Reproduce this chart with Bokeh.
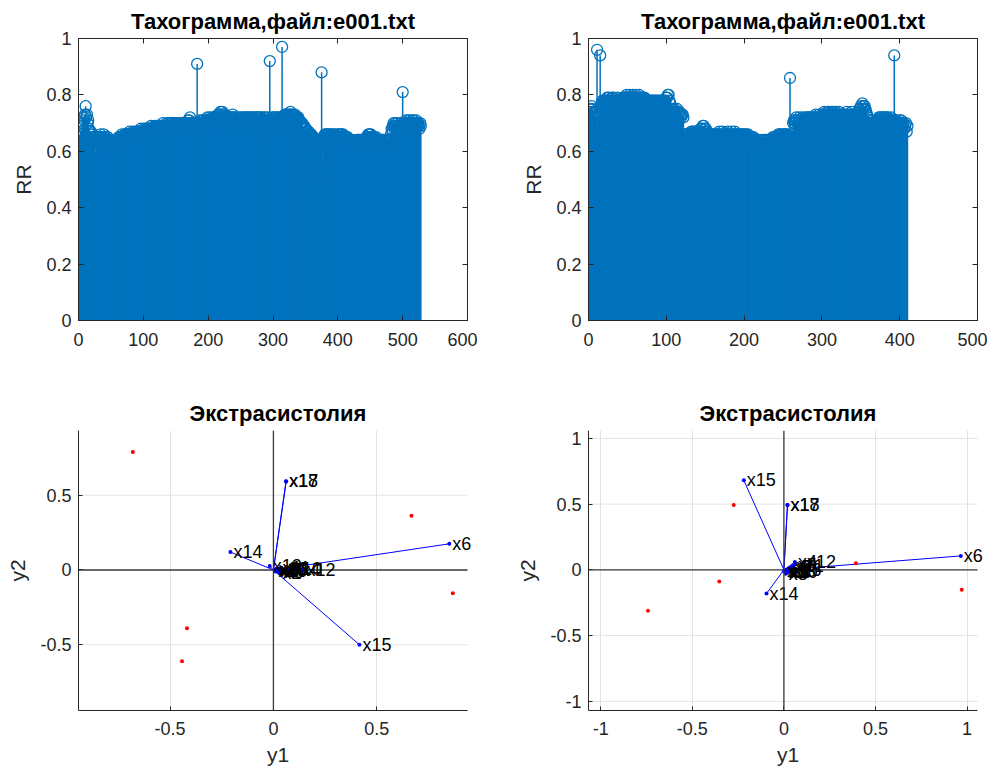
from bokeh.plotting import figure
from bokeh.models import (LinearAxis, FixedTicker, Span, Range1d, CustomJSTickFormatter,
                          LabelSet, ColumnDataSource)
from bokeh.layouts import row, column
from bokeh.core.properties import value
from bokeh.embed import file_html
from bokeh.resources import INLINE

# ---------------- data ----------------
title_top = "Тахограмма,файл:e001.txt"
title_bottom = "Экстрасистолия"

rr1 = [
    0.66,0.65,0.67,0.66,0.67,0.69,0.70,0.72,0.71,0.73,0.76,0.72,0.73,0.70,0.71,0.68,0.67,0.66,0.67,0.65,
    0.64,0.66,0.63,0.65,0.64,0.60,0.65,0.64,0.63,0.65,0.64,0.65,0.64,0.66,0.65,0.64,0.65,0.64,0.66,0.65,
    0.64,0.65,0.63,0.64,0.65,0.64,0.63,0.64,0.62,0.63,0.63,0.62,0.63,0.62,0.62,0.63,0.62,0.63,0.64,0.63,
    0.64,0.65,0.64,0.65,0.64,0.65,0.66,0.65,0.64,0.65,0.66,0.65,0.66,0.65,0.66,0.66,0.65,0.66,0.67,0.66,
    0.66,0.65,0.66,0.67,0.66,0.66,0.67,0.66,0.65,0.67,0.66,0.67,0.67,0.66,0.67,0.68,0.67,0.66,0.67,0.67,
    0.68,0.67,0.67,0.68,0.67,0.68,0.68,0.67,0.68,0.67,0.68,0.69,0.68,0.67,0.68,0.68,0.69,0.68,0.68,0.69,
    0.68,0.69,0.68,0.69,0.68,0.69,0.69,0.68,0.69,0.70,0.69,0.68,0.69,0.69,0.68,0.70,0.69,0.69,0.70,0.69,
    0.69,0.70,0.69,0.70,0.69,0.69,0.70,0.69,0.70,0.69,0.70,0.70,0.69,0.70,0.69,0.70,0.69,0.70,0.70,0.69,
    0.70,0.69,0.70,0.69,0.70,0.69,0.70,0.70,0.71,0.70,0.71,0.72,0.70,0.69,0.68,0.70,0.69,0.70,0.69,0.70,
    0.70,0.69,0.91,0.70,0.69,0.70,0.71,0.70,0.69,0.70,0.71,0.70,0.71,0.70,0.69,0.71,0.70,0.71,0.72,0.71,
    0.70,0.71,0.72,0.71,0.70,0.71,0.72,0.71,0.71,0.72,0.71,0.70,0.71,0.72,0.73,0.72,0.73,0.72,0.74,0.73,
    0.73,0.74,0.72,0.73,0.72,0.73,0.72,0.71,0.72,0.71,0.72,0.71,0.72,0.71,0.72,0.71,0.72,0.73,0.72,0.71,
    0.72,0.71,0.70,0.71,0.72,0.71,0.72,0.71,0.70,0.71,0.72,0.71,0.72,0.71,0.70,0.71,0.72,0.71,0.72,0.71,
    0.72,0.71,0.72,0.71,0.70,0.72,0.71,0.72,0.71,0.72,0.71,0.70,0.71,0.72,0.71,0.72,0.71,0.72,0.71,0.72,
    0.71,0.72,0.71,0.70,0.71,0.72,0.71,0.72,0.71,0.70,0.71,0.72,0.71,0.65,0.92,0.71,0.70,0.71,0.72,0.71,
    0.72,0.71,0.72,0.71,0.70,0.72,0.71,0.72,0.71,0.70,0.71,0.72,0.71,0.97,0.72,0.71,0.72,0.73,0.72,0.73,
    0.72,0.73,0.72,0.73,0.72,0.73,0.74,0.73,0.73,0.72,0.73,0.72,0.72,0.73,0.72,0.71,0.72,0.71,0.72,0.71,
    0.71,0.70,0.70,0.69,0.70,0.69,0.68,0.69,0.68,0.67,0.68,0.67,0.67,0.66,0.67,0.66,0.66,0.65,0.66,0.65,
    0.65,0.64,0.65,0.64,0.64,0.63,0.64,0.63,0.63,0.64,0.63,0.62,0.63,0.52,0.88,0.57,0.63,0.64,0.65,0.66,
    0.65,0.66,0.65,0.66,0.65,0.66,0.65,0.66,0.65,0.66,0.65,0.64,0.65,0.66,0.65,0.66,0.65,0.64,0.65,0.66,
    0.65,0.66,0.65,0.66,0.65,0.66,0.65,0.66,0.65,0.64,0.65,0.64,0.65,0.64,0.65,0.64,0.63,0.64,0.64,0.63,
    0.64,0.63,0.64,0.64,0.63,0.64,0.64,0.63,0.64,0.64,0.63,0.64,0.64,0.63,0.64,0.63,0.64,0.64,0.63,0.64,
    0.64,0.63,0.64,0.65,0.64,0.65,0.66,0.65,0.66,0.65,0.66,0.65,0.64,0.65,0.64,0.65,0.64,0.64,0.65,0.64,
    0.64,0.63,0.64,0.64,0.63,0.64,0.63,0.64,0.64,0.63,0.64,0.63,0.64,0.63,0.64,0.64,0.63,0.64,0.63,0.64,
    0.64,0.66,0.68,0.67,0.69,0.70,0.68,0.69,0.70,0.69,0.68,0.70,0.69,0.68,0.67,0.69,0.70,0.68,0.69,0.81,
    0.69,0.70,0.69,0.70,0.71,0.70,0.69,0.70,0.71,0.70,0.71,0.70,0.69,0.70,0.71,0.70,0.71,0.70,0.69,0.70,
    0.71,0.70,0.69,0.70,0.69,0.68,0.70,0.69,
]

rr2 = [
    0.75,0.74,0.75,0.76,0.75,0.74,0.73,0.74,0.72,0.74,0.96,0.70,0.73,0.72,0.94,0.76,0.77,0.78,0.77,0.78,
    0.78,0.77,0.78,0.79,0.78,0.79,0.78,0.77,0.78,0.79,0.78,0.79,0.78,0.77,0.78,0.78,0.79,0.78,0.77,0.78,
    0.78,0.77,0.78,0.79,0.78,0.79,0.78,0.79,0.80,0.79,0.78,0.79,0.80,0.79,0.78,0.79,0.80,0.79,0.78,0.79,
    0.80,0.79,0.78,0.79,0.80,0.79,0.78,0.79,0.78,0.79,0.78,0.79,0.78,0.77,0.78,0.77,0.78,0.77,0.78,0.77,
    0.78,0.77,0.78,0.77,0.78,0.77,0.78,0.77,0.78,0.77,0.78,0.77,0.78,0.77,0.78,0.77,0.78,0.77,0.78,0.79,
    0.79,0.80,0.80,0.78,0.77,0.75,0.74,0.75,0.74,0.75,0.74,0.73,0.74,0.75,0.74,0.73,0.74,0.73,0.72,0.73,
    0.73,0.72,0.66,0.65,0.66,0.65,0.66,0.65,0.66,0.65,0.66,0.67,0.66,0.67,0.66,0.67,0.66,0.67,0.66,0.67,
    0.67,0.66,0.67,0.68,0.67,0.68,0.69,0.69,0.68,0.67,0.68,0.67,0.66,0.65,0.66,0.65,0.66,0.65,0.66,0.65,
    0.66,0.65,0.66,0.65,0.66,0.65,0.66,0.67,0.66,0.65,0.66,0.67,0.66,0.65,0.66,0.66,0.65,0.66,0.67,0.66,
    0.66,0.65,0.66,0.67,0.66,0.65,0.66,0.67,0.66,0.65,0.66,0.65,0.66,0.65,0.66,0.65,0.66,0.65,0.66,0.65,
    0.66,0.65,0.66,0.65,0.66,0.65,0.64,0.65,0.64,0.65,0.64,0.65,0.64,0.63,0.64,0.63,0.64,0.63,0.64,0.63,
    0.63,0.64,0.63,0.62,0.63,0.64,0.63,0.64,0.63,0.64,0.63,0.64,0.64,0.63,0.64,0.64,0.65,0.64,0.65,0.64,
    0.65,0.64,0.65,0.66,0.65,0.66,0.65,0.66,0.65,0.66,0.65,0.66,0.65,0.66,0.65,0.66,0.65,0.64,0.86,0.65,
    0.66,0.65,0.70,0.71,0.70,0.71,0.72,0.71,0.70,0.71,0.72,0.71,0.70,0.71,0.72,0.71,0.70,0.71,0.72,0.71,
    0.72,0.71,0.72,0.71,0.72,0.71,0.72,0.71,0.72,0.71,0.72,0.73,0.72,0.71,0.72,0.73,0.72,0.71,0.72,0.73,
    0.72,0.73,0.74,0.73,0.72,0.73,0.74,0.73,0.74,0.73,0.72,0.73,0.74,0.73,0.74,0.73,0.72,0.74,0.73,0.72,
    0.73,0.74,0.73,0.72,0.73,0.72,0.73,0.72,0.73,0.72,0.73,0.74,0.73,0.72,0.73,0.72,0.73,0.74,0.73,0.72,
    0.73,0.72,0.73,0.72,0.73,0.72,0.74,0.75,0.74,0.76,0.75,0.77,0.76,0.75,0.76,0.75,0.74,0.73,0.72,0.71,
    0.70,0.71,0.70,0.69,0.70,0.69,0.70,0.69,0.70,0.71,0.70,0.71,0.72,0.71,0.72,0.71,0.72,0.71,0.72,0.71,
    0.72,0.71,0.72,0.71,0.72,0.71,0.70,0.71,0.72,0.71,0.70,0.71,0.94,0.71,0.70,0.71,0.70,0.69,0.70,0.71,
    0.70,0.71,0.70,0.69,0.70,0.68,0.69,0.70,0.67,0.69,
]
assert len(rr1) == 528, len(rr1)
assert len(rr2) == 410, len(rr2)

rr_yticks = [0, 0.2, 0.4, 0.6, 0.8, 1]
rr1_xticks = [0, 100, 200, 300, 400, 500, 600]
rr2_xticks = [0, 100, 200, 300, 400, 500]

var_names = ["x1", "x2", "x3", "x4", "x5", "x6", "x7", "x8", "x9", "x10",
             "x11", "x12", "x13", "x14", "x15", "x16", "x17", "x18"]

# biplot 1 (left): variable coefficients and observation scores
bl_c1 = [0.01, 0.03, 0.02, 0.12, 0.04, 0.851, 0.05, 0.02, 0.06, 0.08,
         0.03, 0.145, -0.018, -0.208, 0.416, 0.01, 0.062, 0.061]
bl_c2 = [-0.01, -0.02, -0.01, 0.0, -0.015, 0.175, 0.0, 0.0, -0.01, 0.005,
         0.01, 0.0, 0.027, 0.12, -0.50, 0.005, 0.592, 0.593]
bl_o1 = [-0.68, 0.668, 0.868, -0.418, -0.442]
bl_o2 = [0.79, 0.362, -0.155, -0.389, -0.611]
bl_ticks = [-0.5, 0, 0.5]

# biplot 2 (right)
br_c1 = [0.02, 0.03, 0.01, 0.06, 0.02, 0.966, 0.04, 0.01, 0.06, 0.01,
         0.05, 0.11, 0.0, -0.095, -0.219, 0.03, 0.020, 0.019]
br_c2 = [-0.02, -0.01, -0.03, 0.06, -0.02, 0.106, 0.02, -0.01, 0.04, -0.02,
         0.03, 0.06, -0.01, -0.18, 0.681, 0.0, 0.493, 0.494]
br_o1 = [-0.274, -0.353, -0.742, 0.393, 0.971]
br_o2 = [0.494, -0.089, -0.311, 0.051, -0.152]
br_ticks = [-1, -0.5, 0, 0.5, 1]

# ---------------- style ----------------
FONT = "Liberation Sans"
AX = "#262626"
BLUE = "#0072BD"
GRID = "#e3e3e3"
FMT = "return String(tick)"
FRAME_W = 389


def style_axis(ax, ticks, show_labels=True):
    ax.ticker = FixedTicker(ticks=ticks)
    ax.formatter = CustomJSTickFormatter(code=FMT)
    ax.major_label_text_font = FONT
    ax.major_label_text_color = AX
    ax.axis_line_color = AX
    ax.major_tick_line_color = AX
    ax.major_tick_in = 5
    ax.major_tick_out = 0
    ax.minor_tick_line_color = None
    ax.axis_label_text_font = FONT
    ax.axis_label_text_font_size = "21px"
    ax.axis_label_text_font_style = "normal"
    ax.axis_label_text_color = AX
    if show_labels:
        ax.major_label_text_font_size = "18px"
    else:
        ax.major_label_text_font_size = "1px"
        ax.major_label_text_color = None
        ax.major_label_standoff = 0


def style_title(p, text):
    p.title.text = text
    p.title.align = "center"
    p.title.text_font = FONT
    p.title.text_font_size = "22px"
    p.title.text_font_style = "bold"
    p.title.text_color = "#000000"
    p.title.standoff = 9


def make_top(rr, xmax, xticks, ml, mr):
    p = figure(frame_width=FRAME_W, frame_height=282, output_backend="svg",
               toolbar_location=None, x_range=Range1d(0, xmax), y_range=Range1d(0, 1),
               min_border_left=ml, min_border_right=mr, min_border_top=38,
               min_border_bottom=40)
    style_title(p, title_top)
    p.xgrid.visible = False
    p.ygrid.visible = False
    p.outline_line_color = AX
    p.outline_line_alpha = 1
    style_axis(p.xaxis[0], xticks)
    style_axis(p.yaxis[0], rr_yticks)
    p.xaxis.major_label_standoff = 12
    p.yaxis.major_label_standoff = 7
    p.yaxis.axis_label = "RR"
    p.yaxis.axis_label_standoff = 8
    top_ax = LinearAxis()
    style_axis(top_ax, xticks, show_labels=False)
    right_ax = LinearAxis()
    style_axis(right_ax, rr_yticks, show_labels=False)
    p.add_layout(top_ax, "above")
    p.add_layout(right_ax, "right")
    idx = list(range(1, len(rr) + 1))
    p.segment(x0=idx, y0=[0] * len(rr), x1=idx, y1=rr, line_color=BLUE, line_width=1.5)
    p.scatter(x=idx, y=rr, marker="circle", size=11, fill_color=None,
              line_color=BLUE, line_width=1.3)
    return p


def make_biplot(c1, c2, o1, o2, xr, yr, ticks, ml, mr):
    # the plot area is widened a little to the right (without axis or grid there)
    # so that labels near the right edge are not clipped
    ext = 10
    x_end = xr[1] + (xr[1] - xr[0]) * ext / FRAME_W
    p = figure(frame_width=FRAME_W + ext, frame_height=280, output_backend="svg",
               toolbar_location=None, x_range=Range1d(xr[0], x_end), y_range=Range1d(*yr),
               min_border_left=ml, min_border_right=mr - ext, min_border_top=70,
               min_border_bottom=61)
    style_title(p, title_bottom)
    p.title.offset = -ext / 2
    p.outline_line_color = None
    style_axis(p.xaxis[0], ticks)
    style_axis(p.yaxis[0], ticks)
    p.xaxis.bounds = (xr[0], xr[1])
    p.xaxis.major_tick_in = 4
    p.yaxis.major_tick_in = 4
    p.xaxis.major_label_standoff = 11
    p.yaxis.major_label_standoff = 7
    p.xaxis.axis_label = "y1"
    p.yaxis.axis_label = "y2"
    p.xaxis.axis_label_standoff = 5
    p.yaxis.axis_label_standoff = 8
    p.xgrid.ticker = FixedTicker(ticks=ticks)
    p.xgrid.grid_line_color = GRID
    p.ygrid.visible = False
    nt = len(ticks)
    p.segment(x0=[xr[0]] * nt, y0=ticks, x1=[xr[1]] * nt, y1=ticks,
              line_color=GRID, line_width=1)
    p.segment(x0=[xr[0]], y0=[0], x1=[xr[1]], y1=[0], line_color="#3a3a3a", line_width=1.3)
    p.add_layout(Span(location=0, dimension="height", line_color="#3a3a3a", line_width=1.3))
    n = len(c1)
    p.segment(x0=[0] * n, y0=[0] * n, x1=c1, y1=c2, line_color="#0000FF", line_width=1)
    p.scatter(x=c1, y=c2, marker="circle", size=4, fill_color="#0000FF", line_color=None)
    src = ColumnDataSource(dict(x=c1, y=c2, name=var_names))
    p.text(x="x", y="y", text="name", source=src, x_offset=3,
           text_baseline="middle", text_align="left",
           text_font=value(FONT), text_font_size="18px", text_color="#000000")
    p.scatter(x=o1, y=o2, marker="circle", size=4, fill_color="#FF0000", line_color=None)
    return p


p1 = make_top(rr1, 600, rr1_xticks, 78, 10)
p2 = make_top(rr2, 500, rr2_xticks, 111, 10)
p3 = make_biplot(bl_c1, bl_c2, bl_o1, bl_o2, (-0.943, 0.939), (-0.94, 0.933), bl_ticks, 78, 10)
p4 = make_biplot(br_c1, br_c2, br_o1, br_o2, (-1.067, 1.057), (-1.07, 1.06), br_ticks, 111, 10)

layout = column(row(p1, p2), row(p3, p4))
open("out.html", "w").write(file_html(layout, INLINE))
